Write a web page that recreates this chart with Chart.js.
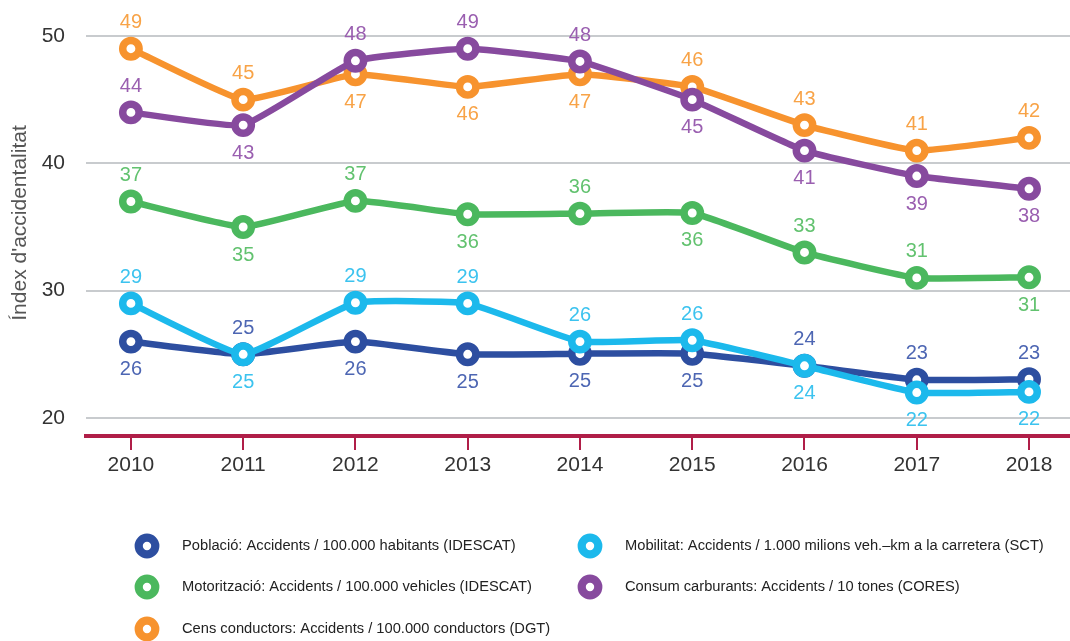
<!DOCTYPE html>
<html>
<head>
<meta charset="utf-8">
<script src="https://cdn.jsdelivr.net/npm/chart.js@4"></script>
<style>
html, body { margin: 0; padding: 0; background: #fff; }
#wrap { width: 1070px; height: 641px; position: relative; }
</style>
</head>
<body>
<div id="wrap"><canvas id="chart"></canvas></div>
<script>
const years = [2010, 2011, 2012, 2013, 2014, 2015, 2016, 2017, 2018];
const poblacio = [26, 25, 26, 25, 25.05, 25.05, 24.1, 23, 23.05];
const mobilitat = [29, 25, 29.05, 29, 26, 26.1, 24.1, 22, 22.05];
const motoritzacio = [37, 35, 37.05, 36, 36.05, 36.1, 33, 31, 31.05];
const consum = [44, 43, 48.05, 49, 48, 45, 41, 39, 38];
const cens = [49, 45, 47, 46, 47, 46, 43, 41, 42];
const yTicks = [20, 30, 40, 50];

const FONT = '"Liberation Sans", Arial, sans-serif';

function series(label, values, color, labelColor, sides, order) {
    return {
        label: label,
        data: values.map((v, i) => ({ x: years[i], y: v })),
        borderColor: color,
        backgroundColor: '#fff',
        borderWidth: 6.5,
        pointRadius: 8.2,
        pointBorderWidth: 7.5,
        pointBackgroundColor: '#fff',
        pointBorderColor: color,
        tension: 0.12,
        labelColor: labelColor,
        labelSide: sides,
        order: order
    };
}

const datasets = [
    series('Població: Accidents / 100.000 habitants (IDESCAT)', poblacio, '#2d4ea0', '#4d66b3', 'babbbbaaa', 1),
    series('Mobilitat: Accidents / 1.000 milions veh.\u2013km a la carretera (SCT)', mobilitat, '#1cb9ec', '#3cc3ef', 'abaaaabbb', 0),
    series('Motorització: Accidents / 100.000 vehicles (IDESCAT)', motoritzacio, '#4bb85e', '#62c26f', 'abababaab', 4),
    series('Consum carburants: Accidents / 10 tones (CORES)', consum, '#874a9e', '#9a5fb0', 'abaaabbbb', 2),
    series('Cens conductors: Accidents / 100.000 conductors (DGT)', cens, '#f7932e', '#f8a347', 'aabbbaaaa', 3)
];

const valueLabels = {
    id: 'valueLabels',
    afterDatasetsDraw(chart) {
        const ctx = chart.ctx;
        ctx.save();
        ctx.font = '20px ' + FONT;
        ctx.textAlign = 'center';
        ctx.textBaseline = 'middle';
        chart.data.datasets.forEach((ds, i) => {
            const meta = chart.getDatasetMeta(i);
            meta.data.forEach((pt, j) => {
                const above = ds.labelSide[j] === 'a';
                ctx.fillStyle = ds.labelColor;
                ctx.fillText(Math.round(ds.data[j].y), pt.x, pt.y + (above ? -26 : 28));
            });
        });
        ctx.restore();
    }
};

// legend in two columns under the axis
const gridLegend = {
    id: 'gridLegend',
    afterDraw(chart) {
        const ctx = chart.ctx;
        const colX = [147, 590];
        const rowY = [546, 587, 629];
        ctx.save();
        ctx.font = '14.7px ' + FONT;
        ctx.textBaseline = 'middle';
        ctx.textAlign = 'left';
        chart.data.datasets.forEach((ds, i) => {
            const x = colX[i % 2];
            const y = rowY[Math.floor(i / 2)];
            ctx.beginPath();
            ctx.arc(x, y, 8.3, 0, Math.PI * 2);
            ctx.lineWidth = 8.2;
            ctx.strokeStyle = ds.borderColor;
            ctx.fillStyle = '#fff';
            ctx.fill();
            ctx.stroke();
            ctx.fillStyle = '#222';
            ctx.fillText(ds.label, x + 35, y);
        });
        ctx.restore();
    }
};

const ctx = document.getElementById('chart').getContext('2d');
const chart = new Chart(ctx, {
    type: 'line',
    data: { datasets: datasets },
    plugins: [valueLabels, gridLegend],
    options: {
        responsive: true,
        maintainAspectRatio: false,
        animation: false,
        layout: { autoPadding: false, padding: { top: 10, left: 0, right: 0, bottom: 0 } },
        plugins: {
            legend: { display: false },
            tooltip: { enabled: false }
        },
        scales: {
            x: {
                type: 'linear',
                min: 2009.6,
                max: 2018.365,
                afterBuildTicks: (scale) => { scale.ticks = years.map(v => ({ value: v })); },
                afterFit: (scale) => {
                    scale.height = 205;
                    scale.paddingLeft = 0;
                    scale.paddingRight = 0;
                },
                grid: {
                    drawOnChartArea: false,
                    color: '#b01e48',
                    lineWidth: 2,
                    tickLength: 14
                },
                border: { color: '#b01e48', width: 4 },
                ticks: {
                    padding: 3,
                    color: '#333',
                    font: { size: 21, family: FONT },
                    callback: (v) => String(v),
                    maxRotation: 0
                }
            },
            y: {
                min: 18.586,
                max: 52.04,
                afterBuildTicks: (scale) => { scale.ticks = yTicks.map(v => ({ value: v })); },
                afterFit: (scale) => {
                    scale.width = 86;
                    scale.paddingTop = 0;
                    scale.paddingBottom = 0;
                },
                grid: {
                    color: '#c8cbce',
                    lineWidth: 2,
                    drawTicks: false
                },
                border: { display: false },
                ticks: {
                    padding: 21,
                    color: '#333',
                    font: { size: 21, family: FONT }
                },
                title: {
                    display: true,
                    text: '\u00cdndex d\'accidentalitat',
                    color: '#555',
                    font: { size: 21, family: FONT },
                    padding: { top: 8, bottom: 0 }
                }
            }
        },
        elements: { point: { hoverRadius: 8.2 } }
    }
});
</script>
</body>
</html>
